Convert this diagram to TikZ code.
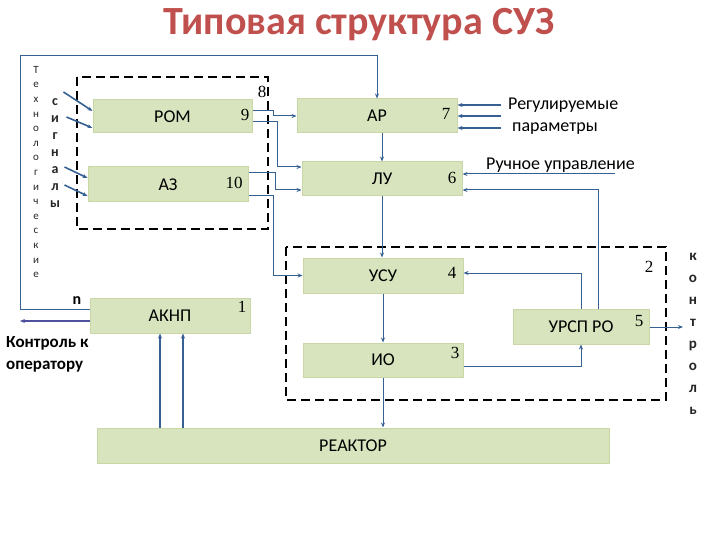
\documentclass[tikz,border=0pt]{standalone}
\usepackage{fontspec}
\setmainfont{Carlito}
\newfontfamily\numfont{Liberation Serif}
\usepackage{xcolor}
\usetikzlibrary{arrows.meta,positioning}
\definecolor{boxfill}{RGB}{215,228,189}
\definecolor{boxedge}{RGB}{200,215,165}
\definecolor{linkblue}{RGB}{55,96,146}
\definecolor{oplink}{RGB}{80,80,160}
\definecolor{titlered}{RGB}{192,80,77}

\begin{document}
\begin{tikzpicture}[x=1pt, y=-1pt,
  blk/.style={draw=boxedge, fill=boxfill, line width=1pt, minimum width=160pt, minimum height=35pt, inner sep=0pt, font=\fontsize{18}{20}\selectfont},
  num/.style={font=\numfont\fontsize{17}{19}\selectfont, inner sep=0pt},
  lnk/.style={draw=linkblue, line width=1pt, -{Stealth[length=5pt, width=4pt]}},
  grp/.style={draw=black, line width=1.8pt, dash pattern=on 9pt off 5pt},
  vtxt/.style={align=center, inner sep=0pt, text=black!85}]
\useasboundingbox (0,0) rectangle (720,540);
% title
\node[font=\bfseries\fontsize{40}{42}\selectfont, text=titlered] (title) at (359,25) {Типовая структура СУЗ};
% the blocks
\node[blk, minimum width=159pt, minimum height=33pt] (rom) at (172.5,116.5) {РОМ};
\node[blk] (az) at (168,184.5) {АЗ};
\node[blk, minimum height=34pt] (ar) at (377,116) {АР};
\node[blk, minimum height=34pt] (lu) at (382,179) {ЛУ};
\node[blk] (usu) at (383,275.5) {УСУ};
\node[blk, minimum height=34pt] (io) at (383,360) {ИО};
\node[blk, minimum width=136pt] (urs) at (581,326.5) {УРСП РО};
\node[blk] (akn) at (170,315.5) {АКНП};
\node[blk, minimum width=512pt] (reac) at (353,445.5) {РЕАКТОР};
% dashed groups
\draw[grp] (77,77) rectangle (268,229);
\draw[grp] (286,247) rectangle (666,400);
% numbers
\node[num] (n8) at (262,92) {8};
\node[num] (n9) at (245,115) {9};
\node[num] (n10) at (234,183) {10};
\node[num] (n7) at (446,114) {7};
\node[num] (n6) at (452,178) {6};
\node[num] (n2) at (649,267) {2};
\node[num] (n4) at (452,273) {4};
\node[num] (n3) at (455,353) {3};
\node[num] (n5) at (639,321) {5};
\node[num] (n1) at (242,307) {1};
\node[font=\bfseries\fontsize{16}{18}\selectfont, inner sep=0pt] (nn) at (77,301) {n};
% side texts
\node[vtxt, font=\fontsize{11}{14.6}\selectfont] (tech) at (36,172) {Т\\е\\х\\н\\о\\л\\о\\г\\и\\ч\\е\\с\\к\\и\\е};
\node[vtxt, font=\bfseries\fontsize{14}{17}\selectfont] (sig) at (55,153) {с\\и\\г\\н\\а\\л\\ы};
\node[vtxt, font=\bfseries\fontsize{15}{22}\selectfont] (ctrl) at (693,334) {к\\о\\н\\т\\р\\о\\л\\ь};
\node[align=left, anchor=west, font=\fontsize{18}{22}\selectfont, inner sep=0pt] (reg) at (508,116) {Регулируемые\\\hspace*{4pt}параметры};
\node[anchor=west, font=\fontsize{18}{20}\selectfont, inner sep=0pt] (manual) at (486,165) {Ручное управление};
\node[align=left, anchor=west, font=\bfseries\fontsize{17}{22}\selectfont, inner sep=0pt] (oper) at (6,354) {Контроль к\\оператору};
% free ends
\coordinate (tl) at (20,55);
\coordinate (opend) at (20,321);
\coordinate (ctlend) at (683,327);
\coordinate (manend) at (615,174);
% inputs of РОМ and АЗ
\foreach \b/\sx/\sy/\ey in {rom/-29/24.5/5.5, rom/-26/-0.5/-11.5, az/-23/17.5/6.5, az/-23/-0.5/-11.5}
  \draw[lnk, line width=1.6pt] ([xshift=\sx pt, yshift=\sy pt]\b.west) -- ([yshift=\ey pt]\b.west);
% РОМ, АЗ -> АР, ЛУ, УСУ
\draw[lnk] ([yshift=5.5pt]rom.east) -- ++(21,0) |- (ar.west);
\draw[lnk] ([yshift=-5.5pt]rom.east) -- ++(25,0) |- ([yshift=12pt]lu.west);
\draw[lnk] ([yshift=11.5pt]az.east) -- ++(27,0) |- ([yshift=-11pt]lu.west);
\draw[lnk] ([yshift=-11.5pt]az.east) -- ++(25,0) |- (usu.west);
% technological signals loop
\draw[lnk, line width=0.8pt] ([yshift=6.5pt]akn.west) -| (tl) -| (ar.north);
\draw[draw=oplink, line width=1.4pt, -{Stealth[length=5pt, width=4pt]}] ([yshift=-5.5pt]akn.west) -- (opend);
% regulated parameters
\foreach \dy in {11,0,-12}
  \draw[lnk, line width=1.4pt] ([xshift=43pt, yshift=\dy pt]ar.east) -- ([yshift=\dy pt]ar.east);
\draw[lnk] (manend) -- ([yshift=5pt]lu.east);
% main chain
\draw[lnk] (lu.north |- ar.south) -- (lu.north);
\draw[lnk] (lu.south) -- (lu.south |- usu.north);
\draw[lnk] (usu.south) -- (io.north);
\draw[lnk] (io.south) -- (io.south |- reac.north);
% feedback through УРСП РО
\draw[lnk] ([xshift=17pt]urs.north) |- ([yshift=-11pt]lu.east);
\draw[lnk] (urs.north) |- ([yshift=2.5pt]usu.east);
\draw[lnk] ([yshift=-6pt]io.east) -| (urs.south);
\draw[lnk] ([yshift=-0.5pt]urs.east) -- (ctlend);
% reactor to АКНП
\draw[lnk, line width=1.4pt] ([xshift=-10pt]akn.south |- reac.north) -- ([xshift=-10pt]akn.south);
\draw[lnk, line width=1.4pt] ([xshift=13pt]akn.south |- reac.north) -- ([xshift=13pt]akn.south);
\end{tikzpicture}
\end{document}
